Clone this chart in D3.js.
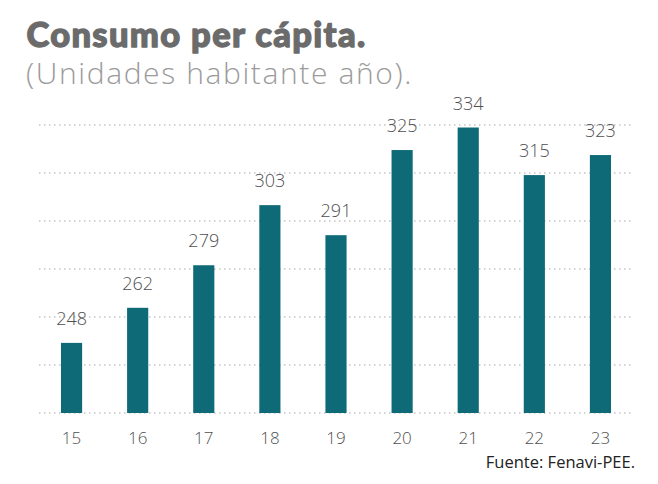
<!DOCTYPE html>
<html>
<head>
<meta charset="utf-8">
<script src="https://cdn.jsdelivr.net/npm/d3@7"></script>
<style>
  html, body { margin: 0; padding: 0; background: #fff; }
  svg { display: block; }
</style>
</head>
<body>
<svg id="chart" width="658" height="484"></svg>
<script>
const categories = ["15", "16", "17", "18", "19", "20", "21", "22", "23"];
const values = [248, 262, 279, 303, 291, 325, 334, 315, 323];
const titleText = "Consumo per cápita.";
const subtitleText = "(Unidades habitante año).";
const sourceText = "Fuente: Fenavi-PEE.";
const yMin = 220, yMax = 335, gridCount = 7;

const svg = d3.select("#chart");
const x = d3.scaleBand().domain(categories).range([38.5, 633.5]).paddingInner(0.68).paddingOuter(0.34);
const y = d3.scaleLinear().domain([yMin, yMax]).range([413, 125]);

const gridVals = d3.range(gridCount).map(i => yMin + i * (yMax - yMin) / (gridCount - 1));
svg.append("g").selectAll("line").data(gridVals).join("line")
  .attr("x1", 39).attr("x2", 634)
  .attr("y1", d => y(d)).attr("y2", d => y(d))
  .attr("stroke", "#c4c4c4").attr("stroke-width", 1.5)
  .attr("stroke-dasharray", "1.5,3.5");

svg.append("g").selectAll("rect").data(values).join("rect")
  .attr("x", (d, i) => x(categories[i]))
  .attr("width", x.bandwidth())
  .attr("y", d => y(d))
  .attr("height", d => y(yMin) - y(d))
  .attr("fill", "#0f6a78");

svg.append("g").selectAll("text").data(values).join("text")
  .attr("x", (d, i) => x(categories[i]) + x.bandwidth() / 2)
  .attr("y", d => y(d) - 18)
  .attr("text-anchor", "middle")
  .attr("font-family", "'Open Sans', Lato, sans-serif")
  .attr("font-weight", 300)
  .attr("font-size", 18)
  .attr("fill", "#4f4f4f")
  .text(d => d);

const xAxis = d3.axisBottom(x).tickSize(0).tickPadding(0);
const ax = svg.append("g").attr("transform", "translate(0,444)").call(xAxis);
ax.select(".domain").remove();
ax.selectAll("text")
  .attr("dy", 0)
  .attr("font-family", "'Open Sans', Lato, sans-serif")
  .attr("font-weight", 300)
  .attr("font-size", 17)
  .attr("fill", "#4f4f4f");

function fitText(sel, target) {
  const n = sel.text().length;
  const len = sel.node().getComputedTextLength();
  sel.attr("letter-spacing", ((target - len) / n).toFixed(2));
}

const title = svg.append("text")
  .attr("x", 26.5).attr("y", 46.5)
  .attr("font-family", "Lato, 'Open Sans', sans-serif")
  .attr("font-weight", 900)
  .attr("font-size", 34.5)
  .attr("fill", "#6b6b6b")
  .attr("stroke", "#6b6b6b")
  .attr("stroke-width", 1.3)
  .attr("stroke-linejoin", "round")
  .text(titleText);
fitText(title, 340);

const sub = svg.append("text")
  .attr("x", 26).attr("y", 83.5)
  .attr("font-family", "'Open Sans', Lato, sans-serif")
  .attr("font-weight", 300)
  .attr("font-size", 30)
  .attr("fill", "#9b9b9b")
  .text(subtitleText);
fitText(sub, 387);

svg.append("text")
  .attr("x", 635).attr("y", 467.5)
  .attr("text-anchor", "end")
  .attr("font-family", "'Open Sans', Lato, sans-serif")
  .attr("font-size", 16.5)
  .attr("fill", "#222")
  .text(sourceText);
</script>
</body>
</html>
